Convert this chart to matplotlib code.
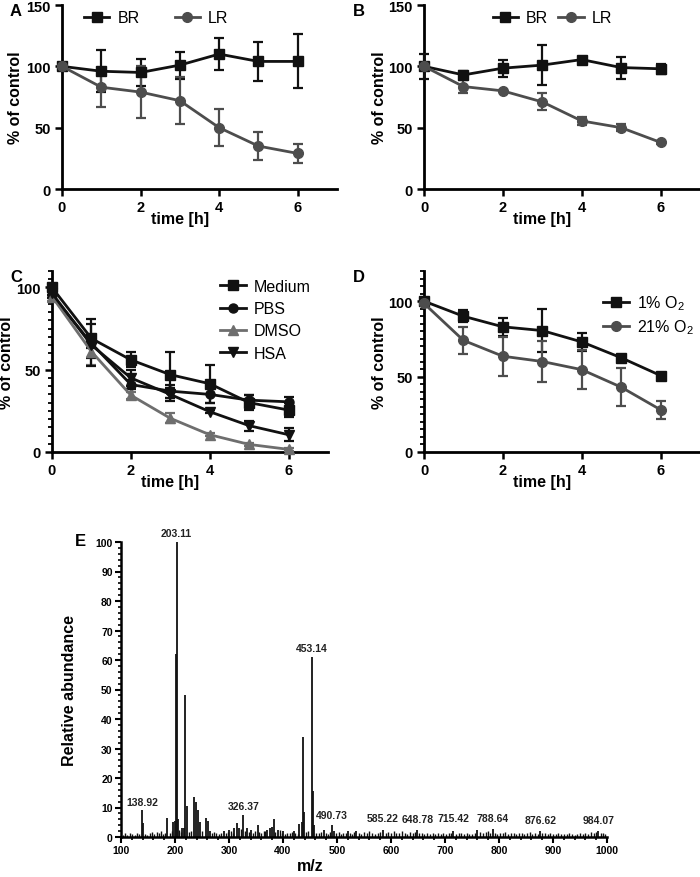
import matplotlib
matplotlib.use('Agg')
import matplotlib.pyplot as plt
from matplotlib.ticker import MultipleLocator
from matplotlib.lines import Line2D

plt.rcParams['font.family'] = ['Liberation Sans', 'DejaVu Sans']
plt.rcParams['mathtext.default'] = 'regular'

# ---------------- data ----------------
time_h = [0, 1, 2, 3, 4, 5, 6]

a_br = [100, 96, 95, 101, 110, 104, 104]
a_br_err = [0, 17, 11, 11, 13, 16, 22]
a_lr = [100, 83, 79, 72, 50, 35, 29]
a_lr_err = [0, 16, 21, 19, 15, 11.5, 8]

b_br = [100, 93, 98.5, 101, 105.5, 99, 98]
b_br_err = [10, 3, 7, 16.5, 1, 9, 4]
b_lr = [100, 83.5, 80, 71, 55.5, 50, 38]
b_lr_err = [0, 5, 1, 7, 3, 3, 1]

c_medium = [100, 69, 56, 47, 41.5, 30, 25.5]
c_medium_err = [0, 12, 4.5, 14, 11.5, 4.5, 4]
c_pbs = [95.5, 66, 41, 37, 35, 31.5, 30.5]
c_pbs_err = [0, 3, 3, 4, 5, 3, 3]
c_dmso = [94.5, 61, 34.5, 20.5, 10.5, 4.6, 1.6]
c_dmso_err = [3, 8, 2, 3, 1, 1, 1]
c_hsa = [96.5, 65, 45, 35, 24.5, 16, 10.5]
c_hsa_err = [3, 13, 5, 4, 1, 3, 4]

d_1 = [100, 90, 83, 80.5, 73, 62.5, 50.7]
d_1_err = [0, 4, 6, 14, 6, 1, 1]
d_21 = [98.5, 74, 63.5, 60, 54.6, 43, 28]
d_21_err = [0, 9, 13, 13.5, 13, 12.5, 6]

# mass spectrum: main peaks
peak_mz = [138.9, 141, 186, 197, 200, 202, 203.11, 205, 213, 216, 219, 221.5,
           234.5, 238, 242, 246, 256.8, 260.5, 264, 290, 300, 310, 314, 319,
           326.37, 333, 340, 353, 370, 375, 380, 382.5, 390, 400, 420, 430,
           435, 437, 439, 453.14, 455, 458, 475, 490.73, 495, 520, 535, 585.22,
           648.78, 715.42, 760, 788.64, 876.62, 984.07]
peak_int = [9, 4.9, 6.6, 5, 5.5, 62, 100, 6, 3, 3, 48, 10.5,
            13.7, 12, 9, 5, 6.6, 5.5, 2, 2, 2.5, 3, 4.6, 3,
            7.4, 3, 2.5, 4, 2.5, 3, 3.5, 6, 2.5, 2, 2, 4.5,
            5, 34, 8.5, 61, 15.5, 4, 2.5, 4.2, 2, 2, 2, 2.5,
            2.3, 2, 2.5, 2.6, 2.2, 2.2]
# baseline noise peaks
noise_mz = [104, 108, 112, 117, 121, 125, 129, 133, 145, 149, 153, 158, 162, 166,
            170, 174, 178, 182, 190, 194, 208, 211, 226, 230, 250, 268, 272, 276,
            281, 285, 294, 298, 303, 307, 322, 330, 337, 344, 348, 356, 360, 364,
            367, 386, 394, 398, 404, 408, 413, 417, 423, 428, 443, 446, 462, 466,
            470, 479, 483, 487, 499, 503, 507, 512, 516, 524, 528, 532, 540, 545,
            550, 555, 560, 565, 570, 575, 580, 590, 595, 600, 605, 610, 615, 620,
            625, 630, 635, 640, 645, 652, 657, 662, 667, 672, 677, 682, 687, 692,
            697, 702, 707, 712, 720, 725, 730, 735, 740, 745, 750, 755, 765, 770,
            775, 780, 784, 792, 797, 802, 807, 812, 817, 822, 827, 832, 837, 842,
            847, 852, 857, 862, 867, 872, 880, 885, 890, 895, 900, 905, 910, 915,
            920, 925, 930, 935, 940, 945, 950, 955, 960, 965, 970, 975, 980, 988,
            993, 997]
noise_int = [0.8, 1.2, 0.6, 1.5, 1.0, 0.7, 1.3, 0.9, 1.1, 0.8, 1.4, 1.6, 1.0, 1.7,
             1.2, 1.9, 1.1, 1.5, 1.3, 2.0, 2.5, 1.8, 1.6, 1.9, 2.2, 1.4, 1.7, 1.2,
             1.0, 1.5, 1.3, 1.8, 2.0, 1.4, 2.6, 2.2, 1.8, 1.5, 2.0, 1.6, 1.2, 1.9,
             2.2, 1.6, 2.3, 1.5, 1.0, 1.4, 1.2, 1.7, 1.3, 1.1, 1.6, 1.9, 1.4, 1.2,
             1.8, 1.5, 1.1, 1.7, 1.3, 1.6, 1.0, 1.4, 1.2, 1.5, 1.1, 1.8, 1.3, 1.0,
             1.6, 1.2, 1.9, 1.4, 1.1, 1.5, 1.7, 1.3, 1.8, 1.2, 1.9, 1.5, 1.3, 2.0,
             1.4, 1.1, 1.6, 1.3, 1.8, 1.2, 1.5, 1.0, 1.3, 1.1, 1.4, 0.9, 1.2, 1.0,
             1.3, 1.1, 1.5, 1.2, 1.0, 1.4, 1.2, 0.9, 1.3, 1.1, 1.0, 1.2, 1.6, 1.3,
             1.8, 2.0, 1.5, 1.3, 1.1, 1.4, 1.2, 1.6, 1.0, 1.3, 1.5, 1.1, 1.2, 1.4,
             1.0, 1.3, 1.6, 1.1, 1.2, 1.0, 1.5, 1.2, 1.0, 1.3, 1.1, 0.9, 1.2, 1.0,
             1.1, 0.9, 1.3, 1.0, 0.8, 1.1, 1.2, 0.9, 1.4, 1.0, 1.6, 1.2, 1.8, 1.3,
             1.5, 1.0]
label_mz = [138.92, 203.11, 326.37, 453.14, 490.73, 585.22, 648.78, 715.42,
            788.64, 876.62, 984.07]
label_y = [9.5, 100.5, 7.9, 61.5, 4.8, 3.8, 3.5, 3.8, 3.8, 3.2, 3.2]

BLACK = '#111111'
GRAY = '#4d4d4d'
LGRAY = '#6e6e6e'

fig = plt.figure(figsize=(7, 8.78), dpi=100)


def style(ax, ylab_x, xlab=True):
    for s in ['top', 'right']:
        ax.spines[s].set_visible(False)
    for s in ['left', 'bottom']:
        ax.spines[s].set_linewidth(2.0)
    ax.tick_params(axis='both', which='major', width=1.8, length=5,
                   labelsize=10.5, pad=3)
    ax.tick_params(axis='both', which='minor', width=1.3, length=3)
    for t in ax.get_xticklabels() + ax.get_yticklabels():
        t.set_fontweight('bold')
    ax.set_ylabel('% of control', fontsize=11.5, fontweight='bold')
    ax.yaxis.set_label_coords(ylab_x, 0.5)
    if xlab:
        ax.set_xlabel('time [h]', fontsize=11.5, fontweight='bold', labelpad=1)
        ax.xaxis.set_label_coords(3 / 7, -0.12)


def series(ax, y, e, color, marker, ms=7, label=None):
    ax.errorbar(time_h, y, yerr=e, color=color, marker=marker, ms=ms, lw=2.0,
                elinewidth=1.6, capsize=3.5, capthick=1.6, label=label,
                clip_on=False, zorder=3)


# ---------------- A ----------------
axA = fig.add_axes([62 / 700, 1 - 190 / 878, 275 / 700, 184 / 878])
series(axA, a_br, a_br_err, BLACK, 's', label='BR')
series(axA, a_lr, a_lr_err, GRAY, 'o', label='LR')
axA.set_xlim(0, 7)
axA.set_ylim(0, 150)
axA.set_xticks([0, 2, 4, 6])
axA.set_yticks([0, 50, 100, 150])
style(axA, -0.142)
hA = [Line2D([], [], color=BLACK, marker='s', ms=7, lw=2),
      Line2D([], [], color=GRAY, marker='o', ms=7, lw=2)]
axA.legend(hA, ['BR', 'LR'], ncol=2, frameon=False, fontsize=11.5,
           loc='center left', bbox_to_anchor=(0.05, 0.93), handlelength=1.6,
           columnspacing=2.2, handletextpad=0.5, borderpad=0)
fig.text(10 / 700, 1 - 12 / 878, 'A', fontsize=12, fontweight='bold',
         va='center', ha='left')

# ---------------- B ----------------
axB = fig.add_axes([424 / 700, 1 - 190 / 878, 276 / 700, 184 / 878])
series(axB, b_br, b_br_err, BLACK, 's')
series(axB, b_lr, b_lr_err, GRAY, 'o')
axB.set_xlim(0, 7)
axB.set_ylim(0, 150)
axB.set_xticks([0, 2, 4, 6])
axB.set_yticks([0, 50, 100, 150])
style(axB, -0.134)
axB.legend(hA, ['BR', 'LR'], ncol=2, frameon=False, fontsize=11.5,
           loc='center left', bbox_to_anchor=(0.22, 0.93), handlelength=1.6,
           columnspacing=0.6, handletextpad=0.5, borderpad=0)
fig.text(353 / 700, 1 - 12 / 878, 'B', fontsize=12, fontweight='bold',
         va='center', ha='left')

# ---------------- C ----------------
axC = fig.add_axes([52 / 700, 1 - 453 / 878, 276 / 700, 181 / 878])
series(axC, c_medium, c_medium_err, BLACK, 's', ms=6.5, label='Medium')
series(axC, c_pbs, c_pbs_err, BLACK, 'o', ms=6.5, label='PBS')
series(axC, c_dmso, c_dmso_err, LGRAY, '^', ms=6.5, label='DMSO')
series(axC, c_hsa, c_hsa_err, BLACK, 'v', ms=6.5, label='HSA')
axC.set_xlim(0, 7)
axC.set_ylim(0, 110)
axC.set_xticks([0, 2, 4, 6])
axC.set_yticks([0, 50, 100])
axC.yaxis.set_minor_locator(MultipleLocator(5))
style(axC, -0.138)
hC = [Line2D([], [], color=BLACK, marker='s', ms=6.5, lw=2),
      Line2D([], [], color=BLACK, marker='o', ms=6.5, lw=2),
      Line2D([], [], color=LGRAY, marker='^', ms=6.5, lw=2),
      Line2D([], [], color=BLACK, marker='v', ms=6.5, lw=2)]
axC.legend(hC, ['Medium', 'PBS', 'DMSO', 'HSA'], frameon=False, fontsize=11.5,
           loc='upper left', bbox_to_anchor=(0.58, 1.0), handlelength=1.6,
           handletextpad=0.5, borderpad=0, labelspacing=0.45)
fig.text(10 / 700, 1 - 278 / 878, 'C', fontsize=12, fontweight='bold',
         va='center', ha='left')

# ---------------- D ----------------
axD = fig.add_axes([424 / 700, 1 - 453 / 878, 276 / 700, 181 / 878])
series(axD, d_1, d_1_err, BLACK, 's', ms=7, label='1% O$_2$')
series(axD, d_21, d_21_err, GRAY, 'o', ms=7, label='21% O$_2$')
axD.set_xlim(0, 7)
axD.set_ylim(0, 120)
axD.set_xticks([0, 2, 4, 6])
axD.set_yticks([0, 50, 100])
axD.yaxis.set_minor_locator(MultipleLocator(5))
style(axD, -0.134)
hD = [Line2D([], [], color=BLACK, marker='s', ms=7, lw=2),
      Line2D([], [], color=GRAY, marker='o', ms=7, lw=2)]
axD.legend(hD, ['1% O$_2$', '21% O$_2$'], frameon=False, fontsize=11.5,
           loc='upper left', bbox_to_anchor=(0.62, 0.92), handlelength=1.6,
           handletextpad=0.5, borderpad=0, labelspacing=0.35)
fig.text(353 / 700, 1 - 278 / 878, 'D', fontsize=12, fontweight='bold',
         va='center', ha='left')

# ---------------- E ----------------
axE = fig.add_axes([121 / 700, 1 - 838 / 878, 486 / 700, 295 / 878])
axE.vlines(noise_mz, 0, noise_int, color=BLACK, lw=1.0)
axE.vlines(peak_mz, 0, peak_int, color=BLACK, lw=1.3)
for mz, yy in zip(label_mz, label_y):
    axE.text(mz, yy + 0.8, f'{mz:.2f}', ha='center', va='bottom',
             fontsize=7.5, fontweight='bold', color='#222222')
axE.set_xlim(100, 1000)
axE.set_ylim(0, 100)
axE.set_xticks(range(100, 1001, 100))
axE.set_yticks(range(0, 101, 10))
axE.xaxis.set_minor_locator(MultipleLocator(20))
axE.yaxis.set_minor_locator(MultipleLocator(2))
for s in ['top', 'right']:
    axE.spines[s].set_visible(False)
for s in ['left', 'bottom']:
    axE.spines[s].set_linewidth(1.8)
axE.tick_params(axis='both', which='major', width=1.5, length=4,
                labelsize=7.5, pad=2)
axE.tick_params(axis='both', which='minor', width=1.2, length=2.5)
for t in axE.get_xticklabels() + axE.get_yticklabels():
    t.set_fontweight('bold')
axE.set_ylabel('Relative abundance', fontsize=11.5, fontweight='bold')
axE.yaxis.set_label_coords(-0.09, 0.5)
axE.set_xlabel('m/z', fontsize=11.5, fontweight='bold')
axE.xaxis.set_label_coords((310 - 121) / 486, -0.07)
fig.text(75 / 700, 1 - 542 / 878, 'E', fontsize=12, fontweight='bold',
         va='center', ha='left')

fig.savefig('out.png', dpi=100)
